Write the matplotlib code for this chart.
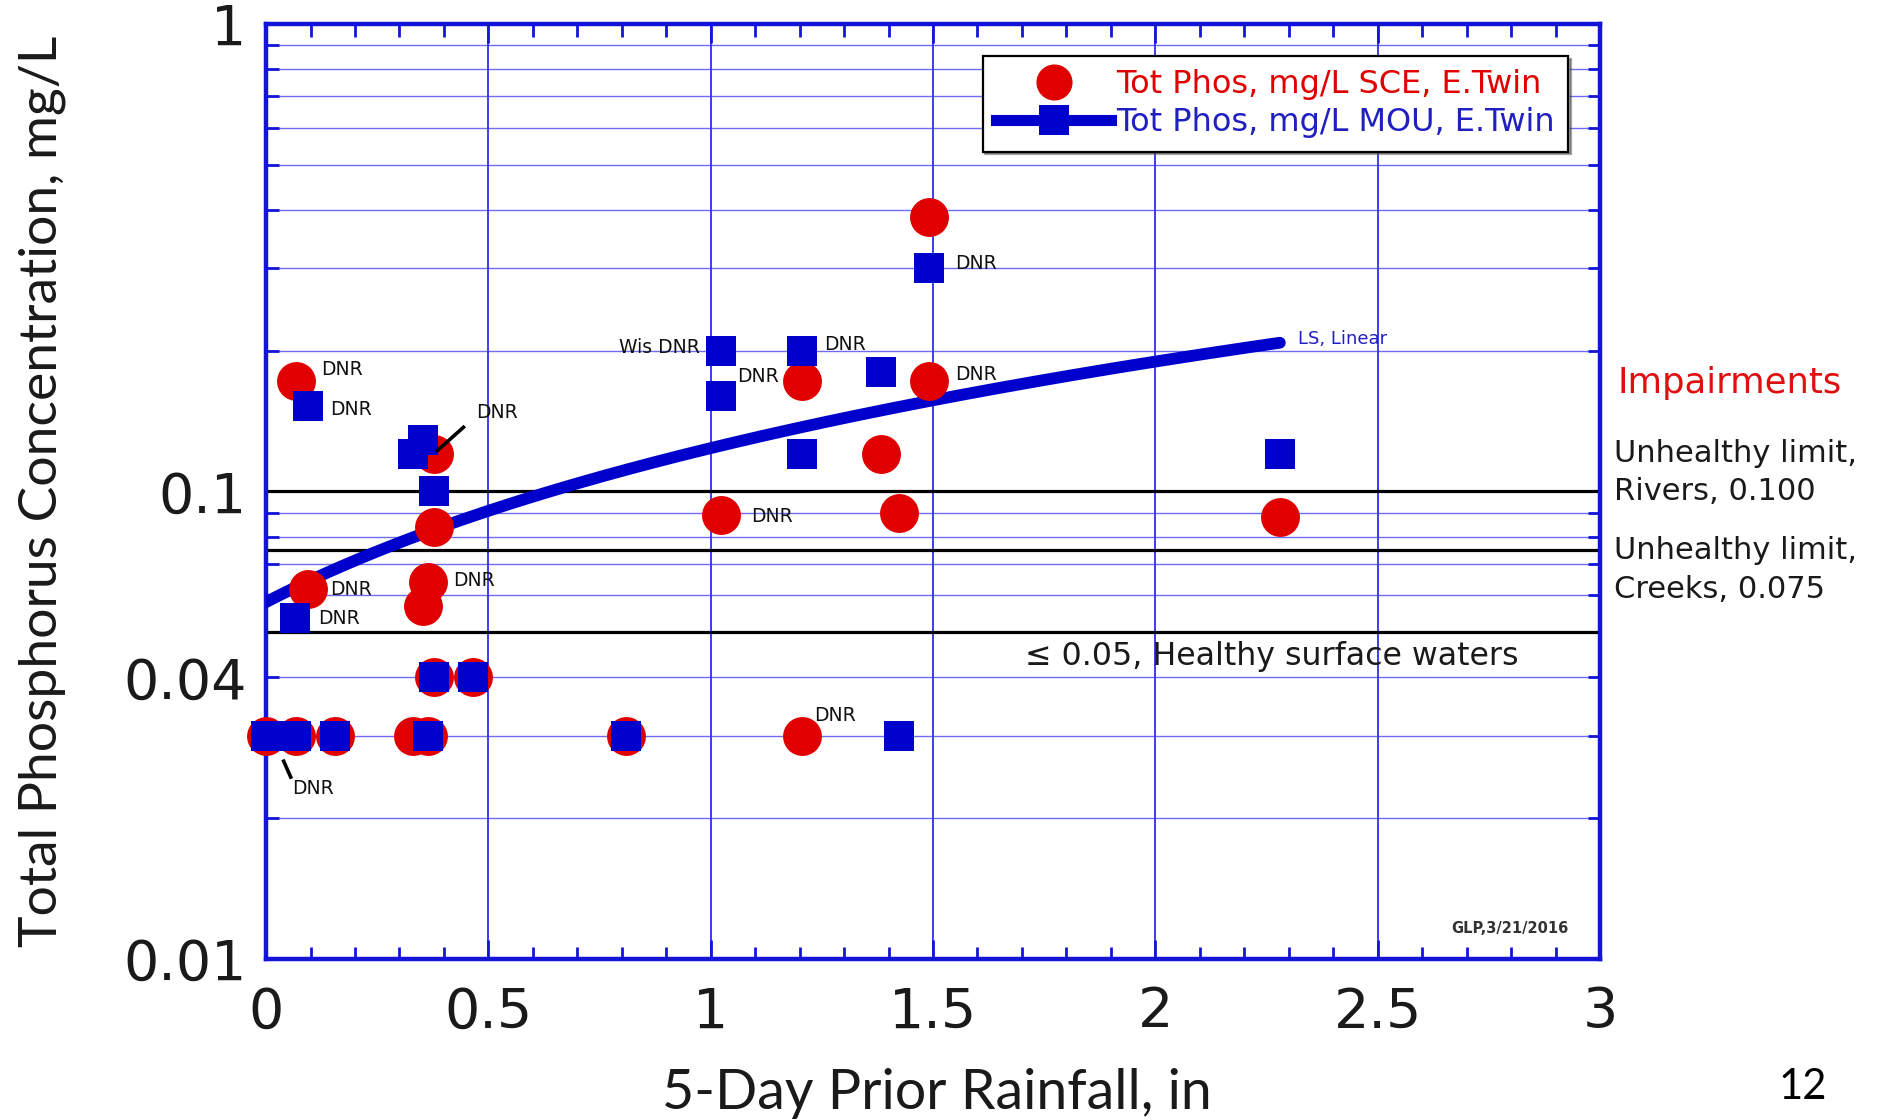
import numpy as np
import matplotlib
matplotlib.use("Agg")
import matplotlib.pyplot as plt
from matplotlib.lines import Line2D
from matplotlib.ticker import FixedLocator, NullFormatter, LogLocator

# ---------------- data ----------------
sce_x = [0.067, 0.094, 0.377, 0.377, 0.364, 0.353, 0.377, 0.466,
         0.0, 0.067, 0.156, 0.33, 0.364, 0.81, 1.205,
         1.024, 1.205, 1.383, 1.423, 1.49, 1.49, 2.28]
sce_y = [0.172, 0.062, 0.12, 0.084, 0.064, 0.057, 0.04, 0.04,
         0.03, 0.03, 0.03, 0.03, 0.03, 0.03, 0.03,
         0.089, 0.172, 0.12, 0.09, 0.386, 0.172, 0.088]

mou_x = [0.094, 0.065, 0.33, 0.353, 0.377, 0.377, 0.466,
         0.0, 0.067, 0.156, 0.364, 0.81, 1.423,
         1.024, 1.024, 1.205, 1.205, 1.383, 1.49, 2.28]
mou_y = [0.152, 0.0535, 0.12, 0.129, 0.1, 0.04, 0.04,
         0.03, 0.03, 0.03, 0.03, 0.03, 0.03,
         0.2, 0.16, 0.2, 0.12, 0.18, 0.3, 0.12]

fit_x_range = [0.0, 2.28]
fit_intercept = 0.058
fit_slope = 0.0658

limit_values = [0.100, 0.075, 0.05]

x_ticks = [0, 0.5, 1, 1.5, 2, 2.5, 3]
x_tick_labels = ["0", "0.5", "1", "1.5", "2", "2.5", "3"]
y_ticks = [0.01, 0.04, 0.1, 1]
y_tick_labels = ["0.01", "0.04", "0.1", "1"]

# DNR labels: (text, x, y, ha)
dnr_labels = [
    ("DNR", 0.124, 0.1826, "left"),
    ("DNR", 0.143, 0.1494, "left"),
    ("DNR", 0.143, 0.0616, "left"),
    ("DNR", 0.116, 0.0535, "left"),
    ("DNR", 0.420, 0.0646, "left"),
    ("Wis DNR", 0.976, 0.203, "right"),
    ("DNR", 1.154, 0.176, "right"),
    ("DNR", 1.256, 0.2066, "left"),
    ("DNR", 1.092, 0.0884, "left"),
    ("DNR", 1.232, 0.0332, "left"),
    ("DNR", 1.550, 0.307, "left"),
    ("DNR", 1.550, 0.178, "left"),
]
# leader-line labels: (text, text_x, text_y, line_x0, line_y0, line_x1, line_y1)
dnr_leaders = [
    ("DNR", 0.472, 0.1477, 0.382, 0.1215, 0.447, 0.138),
    ("DNR", 0.059, 0.0231, 0.038, 0.0267, 0.057, 0.0243),
]

# ---------------- figure ----------------
plt.rcParams['font.family'] = ['DejaVu Sans']
NARROW = ['Lato', 'DejaVu Sans']
fig = plt.figure(figsize=(18.79, 11.2), dpi=100)
ax = fig.add_axes([0.1416, 0.1438, 0.7099, 0.8348])

SPINE = '#1414d8'
GRID = '#3c3cf0'
RED = '#e00000'
BLUE = '#0000cc'

ax.set_yscale('log')
ax.set_xlim(0, 3)
ax.set_ylim(0.01, 1)

# ticks
ax.xaxis.set_major_locator(FixedLocator(x_ticks))
ax.set_xticklabels(x_tick_labels)
ax.xaxis.set_minor_locator(FixedLocator(np.arange(0, 3.01, 0.1)))
ax.yaxis.set_major_locator(FixedLocator(y_ticks))
ax.set_yticklabels(y_tick_labels)
ax.yaxis.set_minor_locator(LogLocator(base=10, subs=np.arange(2, 10)))
ax.yaxis.set_minor_formatter(NullFormatter())

ax.tick_params(axis='both', which='both', direction='in', color=SPINE,
               top=True, right=True, width=2.0)
ax.tick_params(axis='x', which='major', length=14, labelsize=40, pad=19)
ax.tick_params(axis='x', which='minor', length=9)
ax.tick_params(axis='y', which='major', length=9, labelsize=40, pad=14)
ax.tick_params(axis='y', which='minor', length=9)
for lab in ax.get_xticklabels() + ax.get_yticklabels():
    lab.set_color('#1a1a1a')

for s in ax.spines.values():
    s.set_color(SPINE)
    s.set_linewidth(3.2)

# grid
ax.yaxis.grid(True, which='both', color=GRID, lw=1.0, alpha=0.75)
ax.xaxis.grid(True, which='major', color=GRID, lw=1.4)
ax.set_axisbelow(True)

# limit lines
for v in limit_values:
    ax.axhline(v, color='black', lw=2.3, zorder=2)

# fit line
fx = np.linspace(fit_x_range[0], fit_x_range[1], 200)
fy = fit_intercept + fit_slope * fx
ax.plot(fx, fy, color=BLUE, lw=8.5, solid_capstyle='round', zorder=3)

# data
ax.plot(sce_x, sce_y, linestyle='none', marker='o', markersize=28,
        color=RED, markeredgewidth=0, zorder=4, clip_on=False)
ax.plot(mou_x, mou_y, linestyle='none', marker='s', markersize=21,
        color=BLUE, markeredgewidth=0, zorder=5, clip_on=False)

# annotations
for t, x, y, ha in dnr_labels:
    ax.text(x, y, t, ha=ha, va='center', fontsize=13.5, color='#111111',
            zorder=6)
for t, tx, ty, x0, y0, x1, y1 in dnr_leaders:
    ax.text(tx, ty, t, ha='left', va='center', fontsize=13.5,
            color='#111111', zorder=6)
    ax.plot([x0, x1], [y0, y1], color='black', lw=2.6, zorder=6,
            solid_capstyle='butt')

ax.text(2.321, 0.2116, "LS, Linear", ha='left', va='center', fontsize=13,
        color='#2020c0', zorder=6)
ax.text(1.706, 0.0443, "\u2264 0.05, Healthy surface waters", ha='left',
        va='center', fontsize=22.8, color='#1a1a1a', zorder=6)
ax.text(2.93, 0.0116, "GLP,3/21/2016", ha='right', va='center',
        fontsize=10.5, color='#333333', fontweight='bold', zorder=6)

# legend
h_red = Line2D([], [], linestyle='none', marker='o', markersize=26,
               color=RED, markeredgewidth=0)
h_blue = Line2D([], [], linestyle='-', lw=8, marker='s', markersize=21,
                color=BLUE, markeredgewidth=0)
leg = ax.legend([h_red, h_blue],
                ["Tot Phos, mg/L SCE, E.Twin", "Tot Phos, mg/L MOU, E.Twin"],
                loc='upper right', bbox_to_anchor=(0.976, 0.966),
                fontsize=23, frameon=True, fancybox=False, shadow=True,
                handlelength=3.6, handletextpad=0.15, borderpad=0.42,
                labelspacing=0.22, borderaxespad=0)
leg.get_frame().set_edgecolor('black')
leg.get_frame().set_linewidth(1.6)
leg.texts[0].set_color(RED)
leg.texts[1].set_color('#2020c0')
leg.set_zorder(10)

# axis labels
fig.text(0.4987, 0.024, "5-Day Prior Rainfall, in", ha='center',
         va='center', fontsize=40, family=NARROW, color='#1a1a1a')
fig.text(0.0224, 0.5612, "Total Phosphorus Concentration, mg/L",
         ha='center', va='center', rotation=90, fontsize=38.5,
         family=NARROW, color='#1a1a1a')

# right-side texts
fig.text(0.861, 0.658, "Impairments", ha='left', va='center',
         fontsize=25.5, color='#e01010')
fig.text(0.859, 0.578, "Unhealthy limit,\nRivers, 0.100", ha='left',
         va='center', fontsize=22, color='#1a1a1a', linespacing=1.4)
fig.text(0.859, 0.491, "Unhealthy limit,\nCreeks, 0.075", ha='left',
         va='center', fontsize=22, color='#1a1a1a', linespacing=1.4)

fig.text(0.9596, 0.0295, "12", ha='center', va='center', fontsize=30,
         family=NARROW, color='black')

fig.savefig("out.png", dpi=100, facecolor='white')
